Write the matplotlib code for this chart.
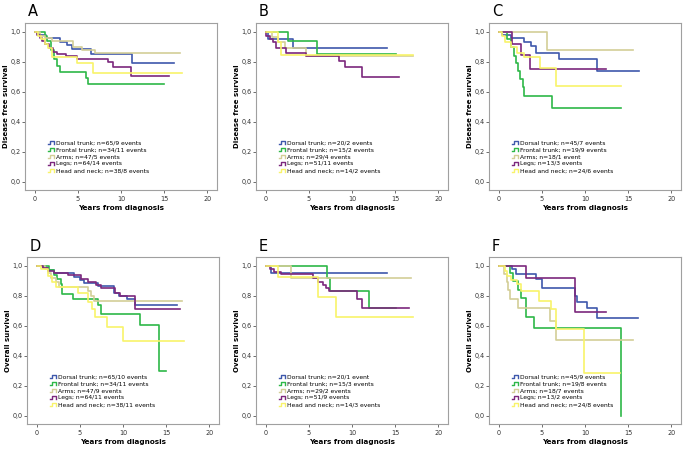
import matplotlib
matplotlib.use("Agg")
import matplotlib.pyplot as plt
from matplotlib.lines import Line2D
from matplotlib.legend_handler import HandlerBase
from matplotlib.ticker import FuncFormatter

groups = ["Dorsal trunk", "Frontal trunk", "Arms", "Legs", "Head and neck"]
colors = ["#3E58AC", "#2EB848", "#D3CE97", "#7C287D", "#F8F36A"]

# panel A - disease free survival, all patients
A_t = [[0, 0.5, 1.3, 3.0, 3.8, 4.3, 6.5, 11.3, 16.1],
       [0, 1.2, 1.5, 1.9, 2.2, 2.6, 3.0, 5.9, 6.2, 15.0],
       [0, 0.6, 1.2, 2.0, 4.5, 5.5, 7.0, 16.8],
       [0, 0.3, 0.6, 0.9, 1.2, 1.7, 2.1, 2.6, 3.6, 4.9, 8.5, 9.1, 11.2, 15.5],
       [0, 0.4, 0.8, 1.2, 1.6, 2.0, 4.9, 6.8, 17.0]]
A_s = [[1.0, 0.98, 0.955, 0.93, 0.91, 0.885, 0.85, 0.79, 0.79],
       [1.0, 0.97, 0.94, 0.88, 0.82, 0.77, 0.73, 0.69, 0.65, 0.65],
       [1.0, 0.97, 0.955, 0.935, 0.895, 0.875, 0.855, 0.855],
       [1.0, 0.98, 0.96, 0.94, 0.92, 0.89, 0.865, 0.85, 0.84, 0.82, 0.795, 0.765, 0.705, 0.705],
       [1.0, 0.97, 0.95, 0.92, 0.89, 0.83, 0.79, 0.725, 0.725]]
A_n = ["n=65/9 events", "n=34/11 events", "n=47/5 events", "n=64/14 events", "n=38/8 events"]

# panel B
B_t = [[0, 0.3, 3.2, 14.1],
       [0, 2.6, 5.9, 15.1],
       [0, 0.7, 1.5, 2.2, 4.7, 17.0],
       [0, 0.1, 0.5, 0.9, 1.2, 2.4, 4.7, 8.5, 9.2, 11.2, 15.4],
       [0, 1.4, 1.8, 17.0]]
B_s = [[1.0, 0.95, 0.89, 0.89],
       [1.0, 0.935, 0.85, 0.85],
       [1.0, 0.965, 0.93, 0.89, 0.84, 0.84],
       [1.0, 0.97, 0.95, 0.93, 0.89, 0.86, 0.84, 0.805, 0.765, 0.70, 0.70],
       [1.0, 0.93, 0.845, 0.845]]
B_n = ["n=20/2 events", "n=15/2 events", "n=29/4 events", "n=51/11 events", "n=14/2 events"]

# panel C
C_t = [[0, 0.4, 1.5, 3.0, 3.7, 4.3, 7.0, 11.4, 16.2],
       [0, 1.0, 1.5, 1.8, 2.0, 2.2, 2.5, 2.8, 3.0, 6.2, 14.2],
       [0, 5.6, 15.6],
       [0, 1.6, 2.6, 3.6, 12.4],
       [0, 0.35, 0.75, 1.5, 2.1, 3.0, 4.8, 6.7, 14.2]]
C_s = [[1.0, 0.975, 0.955, 0.93, 0.905, 0.86, 0.82, 0.74, 0.74],
       [1.0, 0.95, 0.895, 0.84, 0.79, 0.735, 0.685, 0.63, 0.57, 0.49, 0.49],
       [1.0, 0.875, 0.875],
       [1.0, 0.92, 0.845, 0.75, 0.75],
       [1.0, 0.97, 0.93, 0.895, 0.855, 0.83, 0.76, 0.635, 0.635]]
C_n = ["n=45/7 events", "n=19/9 events", "n=18/1 event", "n=13/3 events", "n=24/6 events"]

# panel D - overall survival
D_t = [[0, 0.8, 1.3, 2.0, 4.3, 5.0, 5.5, 7.1, 9.0, 9.5, 10.5, 11.4, 16.3],
       [0, 1.5, 2.0, 2.4, 2.8, 3.0, 4.2, 7.1, 7.4, 12.0, 14.2, 15.0],
       [0, 1.0, 1.3, 1.7, 2.2, 2.6, 6.0, 6.3, 6.6, 16.8],
       [0, 0.8, 1.3, 2.0, 3.6, 5.2, 5.9, 6.9, 7.5, 9.1, 9.6, 11.4, 16.6],
       [0, 0.5, 1.3, 1.8, 2.3, 4.8, 6.0, 6.4, 6.8, 8.1, 10.0, 17.1]]
D_s = [[1.0, 0.985, 0.97, 0.95, 0.925, 0.905, 0.885, 0.865, 0.82, 0.80, 0.78, 0.735, 0.735],
       [1.0, 0.97, 0.94, 0.91, 0.875, 0.81, 0.775, 0.74, 0.68, 0.605, 0.30, 0.30],
       [1.0, 0.975, 0.95, 0.92, 0.89, 0.855, 0.83, 0.80, 0.765, 0.765],
       [1.0, 0.985, 0.965, 0.95, 0.935, 0.91, 0.89, 0.87, 0.85, 0.82, 0.80, 0.71, 0.71],
       [1.0, 0.975, 0.93, 0.89, 0.86, 0.82, 0.76, 0.71, 0.655, 0.59, 0.495, 0.495]]
D_n = ["n=65/10 events", "n=34/11 events", "n=47/9 events", "n=64/11 events", "n=38/11 events"]

# panel E
E_t = [[0, 0.6, 14.1],
       [0, 7.1, 7.4, 12.0, 15.1],
       [0, 3.0, 16.8],
       [0, 0.5, 1.0, 1.8, 5.5, 6.1, 6.6, 7.0, 7.3, 10.6, 11.2, 16.6],
       [0, 1.5, 6.1, 8.1, 17.0]]
E_s = [[1.0, 0.95, 0.95],
       [1.0, 0.915, 0.83, 0.715, 0.715],
       [1.0, 0.915, 0.915],
       [1.0, 0.98, 0.96, 0.945, 0.92, 0.89, 0.87, 0.85, 0.83, 0.775, 0.715, 0.715],
       [1.0, 0.925, 0.79, 0.66, 0.66]]
E_n = ["n=20/1 event", "n=15/3 events", "n=29/2 events", "n=51/9 events", "n=14/3 events"]

# panel F
F_t = [[0, 1.6, 2.0, 4.3, 5.0, 8.8, 9.1, 10.2, 11.4, 16.1],
       [0, 1.3, 1.7, 2.2, 2.6, 3.2, 4.1, 14.2, 14.2],
       [0, 0.6, 1.0, 1.15, 1.35, 2.2, 5.9, 6.6, 15.5],
       [0, 3.2, 8.9, 12.4],
       [0, 0.7, 1.0, 1.5, 2.1, 2.6, 4.7, 6.1, 6.7, 9.9, 14.0]]
F_s = [[1.0, 0.975, 0.945, 0.91, 0.85, 0.80, 0.76, 0.715, 0.65, 0.65],
       [1.0, 0.95, 0.895, 0.84, 0.785, 0.66, 0.585, 0.0, 0.0],
       [1.0, 0.945, 0.89, 0.835, 0.78, 0.72, 0.63, 0.505, 0.505],
       [1.0, 0.92, 0.69, 0.69],
       [1.0, 0.965, 0.93, 0.905, 0.875, 0.83, 0.765, 0.71, 0.575, 0.285, 0.285]]
F_n = ["n=45/9 events", "n=19/8 events", "n=18/7 events", "n=13/2 events", "n=24/8 events"]

panels = [("A", A_t, A_s, A_n, "Disease free survival", [25, 23]),
          ("B", B_t, B_s, B_n, "Disease free survival", [256, 23]),
          ("C", C_t, C_s, C_n, "Disease free survival", [489, 23]),
          ("D", D_t, D_s, D_n, "Overall survival", [27, 257]),
          ("E", E_t, E_s, E_n, "Overall survival", [256, 257]),
          ("F", F_t, F_s, F_n, "Overall survival", [489, 257])]


# small step-shaped legend glyph, like SPSS draws it
class StepHandler(HandlerBase):
    def create_artists(self, legend, orig_handle, xdescent, ydescent,
                       width, height, fontsize, trans):
        x0 = -xdescent
        y0 = -ydescent + 0.1 * height
        y1 = -ydescent + 0.85 * height
        xs = [x0, x0 + 0.25 * width, x0 + 0.25 * width, x0 + width, x0 + width]
        ys = [y0, y0, y1, y1, y0]
        ln = Line2D(xs, ys, color=orig_handle.get_color(), lw=1.0, transform=trans)
        return [ln]


W, H = 685, 449
fig = plt.figure(figsize=(W / 100, H / 100), dpi=100)
fmt = FuncFormatter(lambda v, p: f"{v:.1f}".replace(".", ","))

for letter, ts, ss, ns, ylab, (px, py) in panels:
    ax = fig.add_axes([px / W, 1 - (py + 167) / H, 192 / W, 167 / H])
    lines = []
    for t, s, c, g, n in zip(ts, ss, colors, groups, ns):
        ln, = ax.step(t, s, where="post", color=c, lw=1.2, label=f"{g}; {n}")
        lines.append(ln)
    ax.set_xlim(-1.1, 21.1)
    ax.set_ylim(-0.055, 1.058)
    ax.set_xticks([0, 5, 10, 15, 20])
    ax.set_yticks([0, 0.2, 0.4, 0.6, 0.8, 1.0])
    ax.yaxis.set_major_formatter(fmt)
    ax.tick_params(labelsize=4.7, length=2.2, width=0.6, color="#555555",
                   labelcolor="#333333", pad=1)
    ax.tick_params(axis="x", pad=2)
    for sp in ax.spines.values():
        sp.set_color("#a0a0a0")
        sp.set_linewidth(0.8)
    ax.set_xlabel("Years from diagnosis", fontsize=5.2, fontweight="bold", labelpad=2)
    ax.set_ylabel(ylab, fontsize=5.0, fontweight="bold", labelpad=1)
    ax.legend(handles=lines, handler_map={Line2D: StepHandler()},
              loc="lower left", bbox_to_anchor=(0.1, 0.075), frameon=False,
              fontsize=4.3, handlelength=1.0, handletextpad=0.2,
              labelspacing=0.3, borderpad=0.2)
    fig.text((px + 3) / W, 1 - (py - 11) / H, letter, fontsize=10.5, va="center", ha="left")

fig.savefig("out.png", dpi=100)
